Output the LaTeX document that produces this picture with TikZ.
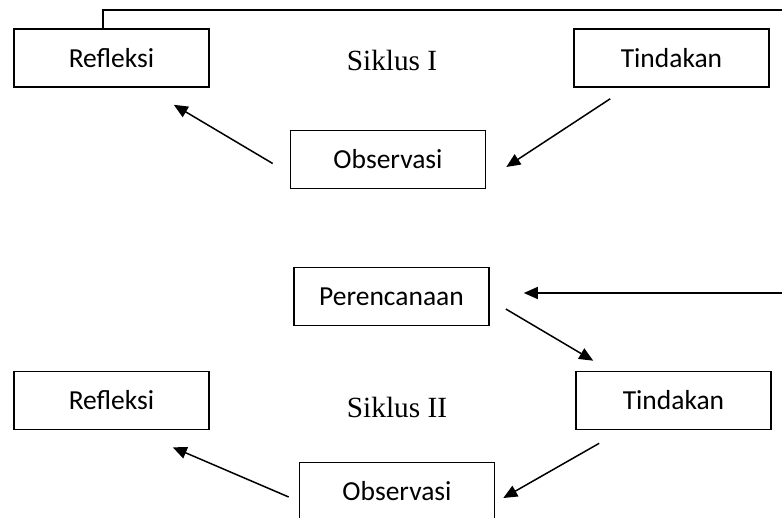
\documentclass[tikz,border=0pt]{standalone}
\usepackage{fontspec}
\setmainfont{Carlito}
\newfontfamily\serifsiklus{Liberation Serif}
\usetikzlibrary{arrows.meta,calc}
\begin{document}
\begin{tikzpicture}[x=1pt,y=-1pt,
  box/.style={draw,line width=1.6pt,minimum width=195pt,minimum height=58pt,inner sep=0pt,font=\fontsize{27.5}{30}\selectfont},
  cyc/.style={font=\serifsiklus\fontsize{29.3}{32}\selectfont,inner sep=0pt},
  conn/.style={line width=1.5pt,-{Triangle[length=14pt,width=12pt]}}]
\useasboundingbox (0,0) rectangle (782,518);
\node[box] (R1) at (111.5,58) {Refleksi};
\node[box] (T1) at (671.5,58) {Tindakan};
\node[box] (O1) at (388,159.5) {Observasi};
\node[cyc] (S1) at (392,60) {Siklus I};
\node[box] (P) at (391.5,296.5) {Perencanaan};
\node[box] (T2) at (673.5,400.5) {Tindakan};
\node[box] (R2) at (111.5,400.5) {Refleksi};
\node[cyc] (S2) at (397,407) {Siklus II};
\node[box] (O2) at (397,491.5) {Observasi};
\draw[conn] ($(O1.west)+(-17,4)$) -- ($(R1.south east)+(-36,17)$);
\draw[conn] ($(T1.south west)+(37,11)$) -- ($(O1.east)+(20,7.5)$);
\draw[conn] ($(R1.north)+(-8.5,0)$) |- (790,10) |- ($(P.east)+(34,-3.5)$);
\draw[conn] ($(P.east)+(16,12.5)$) -- ($(T2.north west)+(18,-10)$);
\draw[conn] ($(T2.south west)+(24,13)$) -- ($(O2.east)+(8,6.5)$);
\draw[conn] ($(O2.west)+(-10,5.5)$) -- ($(R2.south east)+(-37,17)$);
\end{tikzpicture}
\end{document}
